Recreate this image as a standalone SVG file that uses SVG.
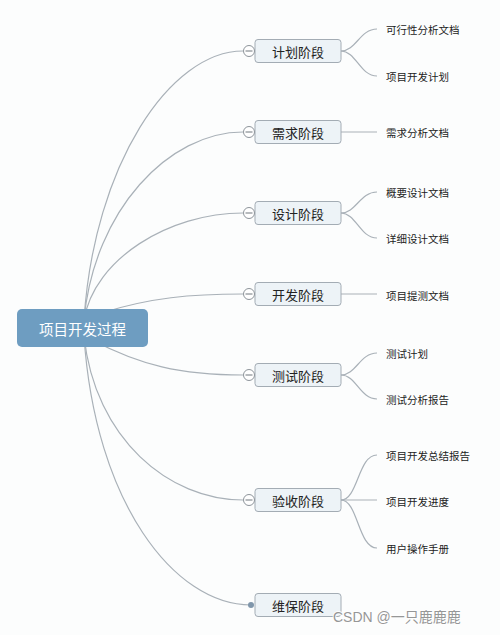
<svg xmlns="http://www.w3.org/2000/svg" width="500" height="635" viewBox="0 0 500 635">
<style>
.bg{fill:#fcfdfd}
.ln{fill:none;stroke:#a9b1b8;stroke-width:1.2}
.box{fill:#edf3f7;stroke:#a3acb4;stroke-width:1}
.bt{font-family:"Noto Sans CJK SC","Noto Sans",sans-serif;font-size:13px;fill:#222;text-anchor:middle;dominant-baseline:central}
.st{font-family:"Noto Sans CJK SC","Noto Sans",sans-serif;font-size:10.5px;fill:#222;dominant-baseline:central}
.tog{fill:#fff;stroke:#8d949a;stroke-width:1}
.minus{stroke:#6f767c;stroke-width:1}
</style>
<rect class="bg" x="0" y="0" width="500" height="635"/>
<g id="connectors">
<path class="ln" d="M84,320 C94,165 170,51 243,51"/>
<path class="ln" d="M84,320 C94,210 169,132 243,132"/>
<path class="ln" d="M84,320 C94,259 169,213 243,213"/>
<path class="ln" d="M105,312 C150,298 190,294 243,294"/>
<path class="ln" d="M92,340 C140,365 180,375 243,375"/>
<path class="ln" d="M84,336 C95,439 169,500 243,500"/>
<path class="ln" d="M84,336 C95,502 174,605 251,605"/>
<path class="ln" d="M341,51 C356,51 360,29 377,29"/>
<path class="ln" d="M341,51 C356,51 360,76 377,76"/>
<path class="ln" d="M341,132 L377,132"/>
<path class="ln" d="M341,213 C356,213 360,192 377,192"/>
<path class="ln" d="M341,213 C356,213 360,238 377,238"/>
<path class="ln" d="M341,294 L377,294"/>
<path class="ln" d="M341,375 C356,375 360,353 377,353"/>
<path class="ln" d="M341,375 C356,375 360,399 377,399"/>
<path class="ln" d="M341,500 C358,500 358,455 377,455"/>
<path class="ln" d="M341,500 L377,500"/>
<path class="ln" d="M341,500 C358,500 358,548 377,548"/>
</g>
<g id="root">
<rect x="17" y="309" width="131" height="38" rx="5" fill="#6e9dc1"/>
<text x="82.5" y="328" font-family="'Noto Sans CJK SC','Noto Sans',sans-serif" font-size="14.5" fill="#fff" text-anchor="middle" dominant-baseline="central">项目开发过程</text>
</g>
<g id="n1">
<rect class="box" x="255" y="39.5" width="86" height="23" rx="3"/>
<text class="bt" x="298" y="51">计划阶段</text>
<circle class="tog" cx="249" cy="51" r="5.5"/><line class="minus" x1="245.5" y1="51" x2="252.5" y2="51"/>
</g>
<g id="n1a"><text class="st" x="386" y="29">可行性分析文档</text></g>
<g id="n1b"><text class="st" x="386" y="76">项目开发计划</text></g>
<g id="n2">
<rect class="box" x="255" y="120.5" width="86" height="23" rx="3"/>
<text class="bt" x="298" y="132">需求阶段</text>
<circle class="tog" cx="249" cy="132" r="5.5"/><line class="minus" x1="245.5" y1="132" x2="252.5" y2="132"/>
</g>
<g id="n2a"><text class="st" x="386" y="132">需求分析文档</text></g>
<g id="n3">
<rect class="box" x="255" y="201.5" width="86" height="23" rx="3"/>
<text class="bt" x="298" y="213">设计阶段</text>
<circle class="tog" cx="249" cy="213" r="5.5"/><line class="minus" x1="245.5" y1="213" x2="252.5" y2="213"/>
</g>
<g id="n3a"><text class="st" x="386" y="192">概要设计文档</text></g>
<g id="n3b"><text class="st" x="386" y="238">详细设计文档</text></g>
<g id="n4">
<rect class="box" x="255" y="282.5" width="86" height="23" rx="3"/>
<text class="bt" x="298" y="294">开发阶段</text>
<circle class="tog" cx="249" cy="294" r="5.5"/><line class="minus" x1="245.5" y1="294" x2="252.5" y2="294"/>
</g>
<g id="n4a"><text class="st" x="386" y="295">项目提测文档</text></g>
<g id="n5">
<rect class="box" x="255" y="363.5" width="86" height="23" rx="3"/>
<text class="bt" x="298" y="375">测试阶段</text>
<circle class="tog" cx="249" cy="375" r="5.5"/><line class="minus" x1="245.5" y1="375" x2="252.5" y2="375"/>
</g>
<g id="n5a"><text class="st" x="386" y="353">测试计划</text></g>
<g id="n5b"><text class="st" x="386" y="399">测试分析报告</text></g>
<g id="n6">
<rect class="box" x="255" y="488.5" width="86" height="23" rx="3"/>
<text class="bt" x="298" y="500">验收阶段</text>
<circle class="tog" cx="249" cy="500" r="5.5"/><line class="minus" x1="245.5" y1="500" x2="252.5" y2="500"/>
</g>
<g id="n6a"><text class="st" x="386" y="455">项目开发总结报告</text></g>
<g id="n6b"><text class="st" x="386" y="501">项目开发进度</text></g>
<g id="n6c"><text class="st" x="386" y="548">用户操作手册</text></g>
<g id="n7">
<rect class="box" x="255" y="593.5" width="86" height="23" rx="3"/>
<text class="bt" x="298" y="605">维保阶段</text>
<circle cx="251" cy="605" r="3" fill="#7f96ab"/>
</g>
<text x="333" y="622" font-family="'Liberation Sans','Noto Sans CJK SC',sans-serif" font-size="14" fill="#8c8c8c" stroke="#ffffff" stroke-width="2" paint-order="stroke" opacity="0.9">CSDN @一只鹿鹿鹿</text>
</svg>
